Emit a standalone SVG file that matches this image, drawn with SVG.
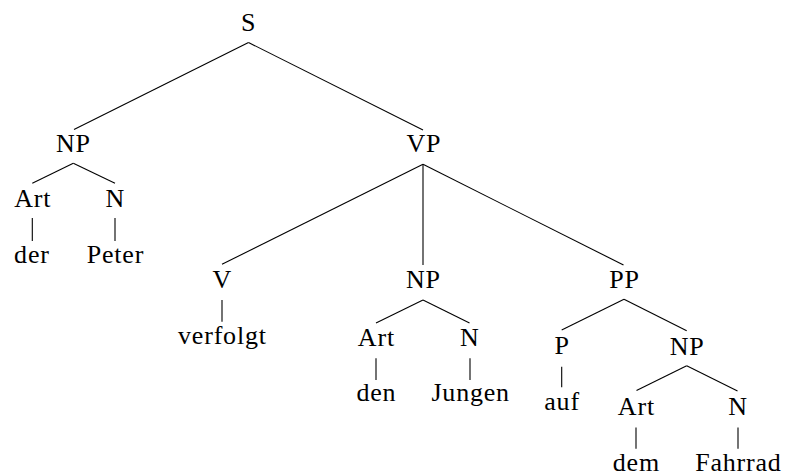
<svg xmlns="http://www.w3.org/2000/svg" width="786" height="476" viewBox="0 0 786 476">
<style>
.t text{font-family:"Liberation Serif","Times New Roman",serif;font-size:26px;letter-spacing:0.8px;fill:#000;text-anchor:middle}
#edges line{stroke:#000;stroke-width:1.1}
</style>
<rect width="786" height="476" fill="#fff"/>
<g id="edges">
<line x1="248.5" y1="42.5" x2="74" y2="129.5"/>
<line x1="248.5" y1="42.5" x2="423" y2="130"/>
<line x1="73.3" y1="163.3" x2="32.3" y2="183.3"/>
<line x1="73.3" y1="163.3" x2="115" y2="183.3"/>
<line x1="32.3" y1="218" x2="32.3" y2="241"/>
<line x1="115" y1="218" x2="115" y2="241"/>
<line x1="423" y1="164.3" x2="222" y2="264.3"/>
<line x1="423" y1="164.3" x2="423" y2="265"/>
<line x1="423" y1="164.3" x2="623.5" y2="265"/>
<line x1="222" y1="300" x2="222" y2="321.7"/>
<line x1="423" y1="300" x2="376" y2="323"/>
<line x1="423" y1="300" x2="469.5" y2="323"/>
<line x1="376" y1="358.3" x2="376" y2="380"/>
<line x1="470" y1="358.3" x2="470" y2="380"/>
<line x1="624" y1="299.3" x2="561.7" y2="330"/>
<line x1="624" y1="299.3" x2="686.7" y2="330.7"/>
<line x1="561.7" y1="366.7" x2="561.7" y2="387.3"/>
<line x1="686.7" y1="365.7" x2="636.5" y2="390.5"/>
<line x1="686.7" y1="365.7" x2="737.5" y2="391"/>
<line x1="636" y1="427.5" x2="636" y2="448.7"/>
<line x1="738" y1="427.5" x2="738" y2="448.7"/>
</g>
<g class="t">
<g id="n-S"><text x="248.7" y="31">S</text></g>
<g id="n-NP1"><text x="73.4" y="152">NP</text></g>
<g id="n-Art1"><text x="32.7" y="207">Art</text></g>
<g id="n-N1"><text x="115.4" y="207">N</text></g>
<g id="n-der"><text x="31.9" y="263">der</text></g>
<g id="n-Peter"><text x="115.4" y="263">Peter</text></g>
<g id="n-VP"><text x="423.9" y="152">VP</text></g>
<g id="n-V"><text x="222.4" y="288">V</text></g>
<g id="n-verfolgt"><text x="222.4" y="344">verfolgt</text></g>
<g id="n-NP2"><text x="423.4" y="288">NP</text></g>
<g id="n-Art2"><text x="376.4" y="346">Art</text></g>
<g id="n-N2"><text x="469.9" y="346">N</text></g>
<g id="n-den"><text x="376.4" y="401">den</text></g>
<g id="n-Jungen"><text x="470.7" y="401">Jungen</text></g>
<g id="n-PP"><text x="624.4" y="288">PP</text></g>
<g id="n-P"><text x="562.1" y="354">P</text></g>
<g id="n-auf"><text x="562.1" y="410">auf</text></g>
<g id="n-NP3"><text x="687.1" y="355">NP</text></g>
<g id="n-Art3"><text x="636.4" y="414.5">Art</text></g>
<g id="n-N3"><text x="738.1" y="414.5">N</text></g>
<g id="n-dem"><text x="636.4" y="470.5">dem</text></g>
<g id="n-Fahrrad"><text x="738.4" y="470.5">Fahrrad</text></g>
</g>
</svg>
